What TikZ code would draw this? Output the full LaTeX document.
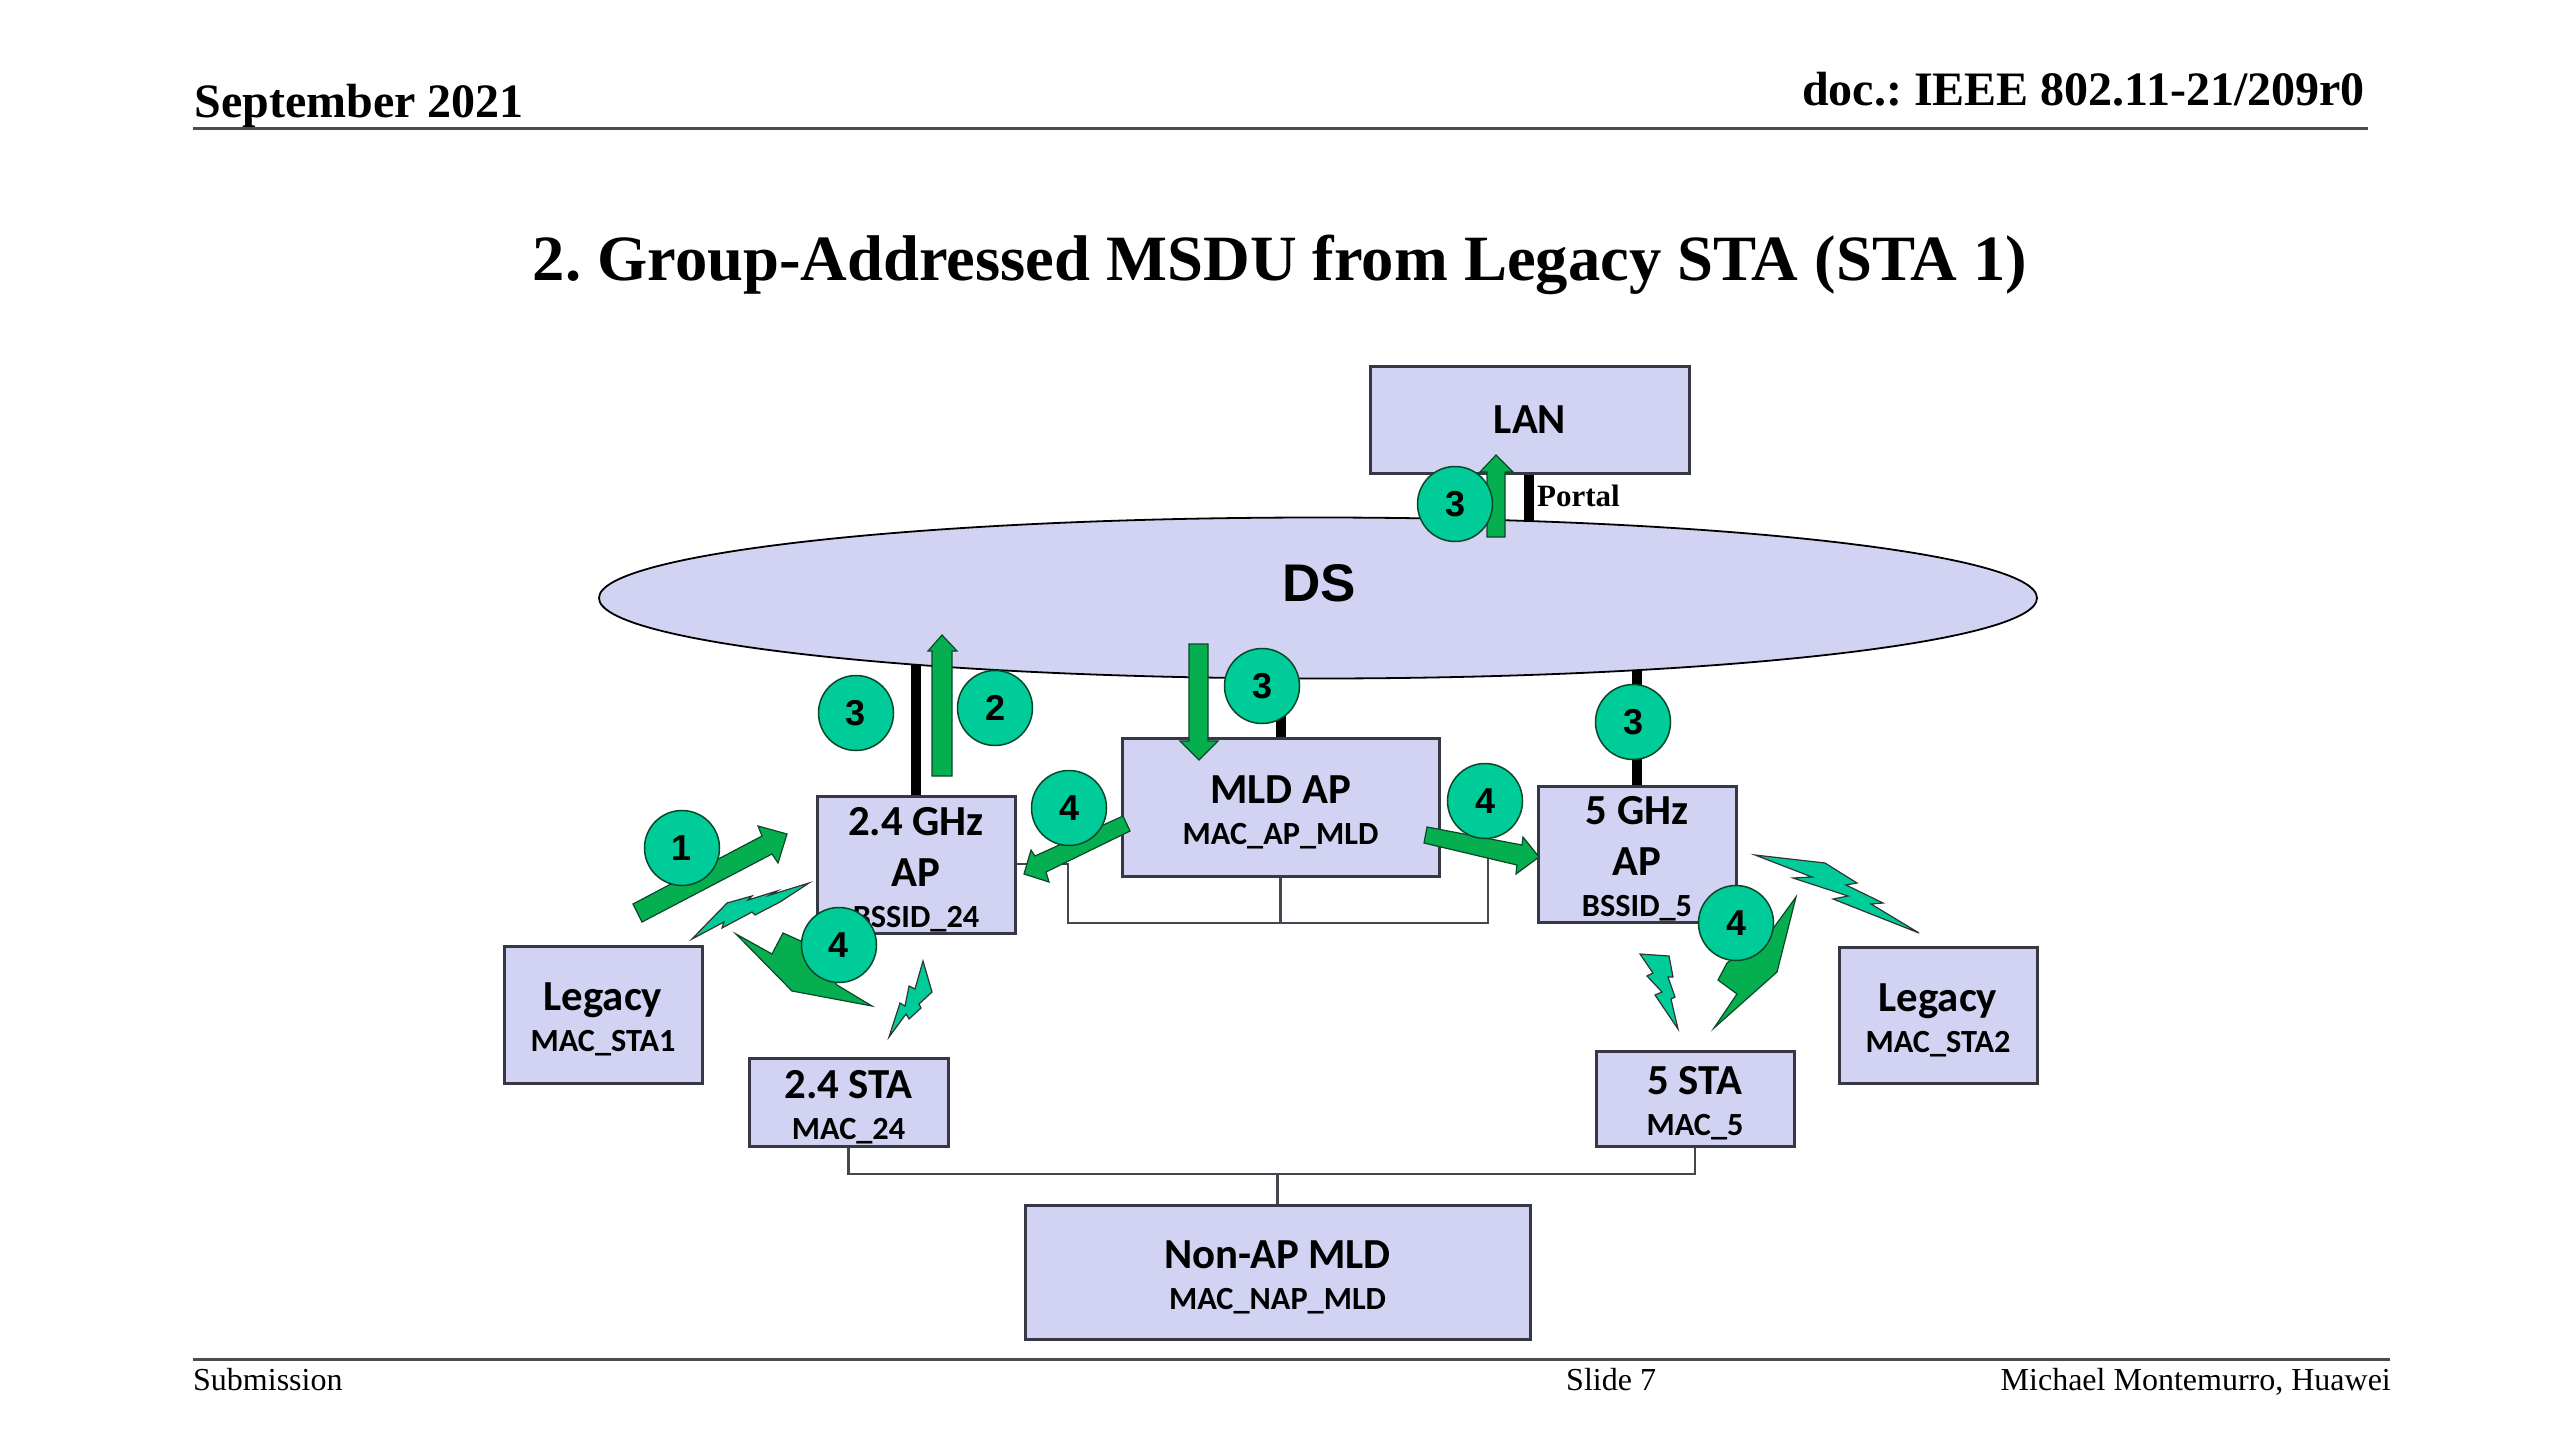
\documentclass[tikz,border=0pt]{standalone}
\usepackage{fontspec}
\setmainfont{Liberation Serif}
\newfontfamily\boxfamily{Carlito}
\newfontfamily\armfamily{Liberation Sans}
\usetikzlibrary{backgrounds,shapes.geometric}
\frenchspacing
\definecolor{boxfill}{RGB}{210,210,242}
\definecolor{boxline}{RGB}{55,55,70}
\definecolor{wireline}{RGB}{70,70,80}
\definecolor{badgefill}{RGB}{0,204,153}
\definecolor{flowfill}{RGB}{5,175,80}
\definecolor{flowline}{RGB}{10,70,40}
\newcommand{\titlefont}{\boxfamily\bfseries\fontsize{42.8}{42.8}\selectfont}
\newcommand{\macfont}{\boxfamily\bfseries\fontsize{32.3}{41}\selectfont}
\newcommand{\tline}[1]{{\titlefont\rule{0pt}{38pt}#1}}
\tikzset{
  labbox/.style={draw=boxline,fill=boxfill,line width=3,inner sep=0,align=center,font=\macfont},
  badge/.style={circle,draw=flowline,fill=badgefill,line width=1.5,minimum size=75,inner sep=0,
    font=\armfamily\bfseries\fontsize{36}{36}\selectfont},
  flow/.style={draw=flowline,fill=flowfill,line width=1.2},
  bolt/.style={draw=black!80,fill=badgefill,line width=1.2},
  link/.style={line width=10,black},
  wire/.style={line width=2.5,wireline},
  head/.style={inner sep=0,anchor=base,font=\bfseries\fontsize{48}{48}\selectfont},
  foot/.style={inner sep=0,anchor=base,font=\fontsize{32}{32}\selectfont},
  rule/.style={line width=3,black!70}
}
\begin{document}
\begin{tikzpicture}[x=1pt,y=-1pt]
\useasboundingbox (0,0) rectangle (2560,1440);

\node[head,anchor=base west] (date) at (194.5,117) {September 2021};
\node[head,anchor=base east] (doc)  at (2365,105) {doc.: IEEE 802.11-21/209r0};
\coordinate (hl) at (193,128);
\coordinate (hr) at (2368,128);
\draw[rule] (hl) -- (hr);
\node[inner sep=0,anchor=base,font=\bfseries\fontsize{64.6}{64.6}\selectfont] (title) at (1280,280)
  {2. Group-Addressed MSDU from Legacy STA (STA 1)};

\node[ellipse,draw=black,fill=boxfill,line width=1.8,minimum width=1438,minimum height=161,inner sep=0] (ds) at (1318,598) {};
\node[inner sep=0,anchor=base,font=\armfamily\bfseries\fontsize{53}{53}\selectfont] (dstext) at (1319,601) {DS};

\node[labbox,minimum width=319,minimum height=107,font=\titlefont] (lan) at (1530,420) {LAN};
\node[labbox,minimum width=317,minimum height=138] (mldap) at (1280.5,807) {\tline{MLD AP}\\{MAC\_AP\_MLD}};
\node[labbox,minimum width=198,minimum height=137] (ap24) at (916,864.5) {\tline{2.4 GHz}\\[10pt]\tline{AP}\\{BSSID\_24}};
\node[labbox,minimum width=198,minimum height=136] (ap5) at (1637,854) {\tline{5 GHz}\\[10pt]\tline{AP}\\{BSSID\_5}};
\node[labbox,minimum width=198,minimum height=137] (leg1) at (603,1014.5) {\tline{Legacy}\\{MAC\_STA1}};
\node[labbox,minimum width=198,minimum height=136] (leg2) at (1938,1015) {\tline{Legacy}\\{MAC\_STA2}};
\node[labbox,minimum width=199,minimum height=88] (sta24) at (848.5,1102) {\tline{2.4 STA}\\{MAC\_24}};
\node[labbox,minimum width=198,minimum height=95] (sta5) at (1695,1098.5) {\tline{5 STA}\\{MAC\_5}};
\node[labbox,minimum width=505,minimum height=134] (nonap) at (1277.5,1272) {\tline{Non-AP MLD}\\{MAC\_NAP\_MLD}};

\coordinate (portal) at (1529,500);
\coordinate (tapl) at (1068,864);
\coordinate (tapr) at (1488,855);
\coordinate (busl) at (1068,923);
\coordinate (busr) at (1488,923);
\coordinate (buss) at (1277.5,1174);
\begin{pgfonlayer}{background}
\draw[link] (portal |- lan.south) -- (portal |- ds.center);
\draw[link] (ap24.north) -- (ap24.north |- ds.center);
\draw[link] (mldap.north) -- (mldap.north |- ds.center);
\draw[link] (ap5.north) -- (ap5.north |- ds.center);
\draw[wire] (mldap.south) -- (mldap.south |- busl);
\draw[wire] (ap24.east |- tapl) -- (tapl) -- (busl) -- (busr) -- (tapr) -- (ap5.west |- tapr);
\draw[wire] (sta24.south) -- (sta24.south |- buss) -- (sta5.south |- buss) -- (sta5.south);
\draw[wire] (nonap.north) -- (buss);
\end{pgfonlayer}

\draw[flow] (1487,537) -- (1487,472) -- (1480,472) -- (1496,455) -- (1513,472) -- (1505,472) -- (1505,537) -- cycle;
\draw[flow] (932,776) -- (932,651) -- (928,651) -- (942,635) -- (957,651) -- (952,651) -- (952,776) -- cycle;
\draw[flow] (1189,644) -- (1189,741) -- (1180,741) -- (1199,760) -- (1218,741) -- (1208,741) -- (1208,644) -- cycle;
\draw[flow] (633,904) -- (642,922) -- (772,854) -- (778,863) -- (787,834) -- (758,826) -- (762,836) -- cycle;
\draw[flow] (1123,816) -- (1130,831) -- (1046,872) -- (1049,882) -- (1024,874) -- (1031,850) -- (1035,856) -- cycle;
\draw[flow] (1427,827) -- (1424,843) -- (1517,865) -- (1516,874) -- (1539,857) -- (1523,837) -- (1522,845) -- cycle;
\draw[flow] (736,934) -- (772,954) -- (783,933) -- (803,942) -- (837,985) -- (872,1006) -- (792,991) -- cycle;
\draw[flow] (1796,897) -- (1777,972) -- (1714,1028) -- (1737,994) -- (1718,980) -- (1727,963) -- (1772,930) -- cycle;

\draw[bolt] (692,939) -- (727,903) -- (752,896) -- (748,900) -- (777,891) -- (770,895) -- (809,883) -- (780,902) -- (755,915) -- (752,912) -- (722,928) -- (724,922) -- cycle;
\draw[bolt] (889,1037) -- (900,1003) -- (905,1006) -- (909,986) -- (915,989) -- (923,961) -- (932,992) -- (919,1004) -- (921,1008) -- (909,1019) -- (906,1014) -- cycle;
\draw[bolt] (1640,954) -- (1669,956) -- (1673,977) -- (1668,977) -- (1675,997) -- (1671,999) -- (1678,1029) -- (1655,995) -- (1662,992) -- (1647,976) -- (1653,973) -- cycle;
\draw[bolt] (1755,855) -- (1825,863) -- (1857,883) -- (1846,885) -- (1883,903) -- (1871,904) -- (1919,933) -- (1833,899) -- (1848,896) -- (1793,878) -- (1812,877) -- cycle;

\node[badge] (one)    at (682,848)  {1};
\node[badge] (two)    at (995,708)  {2};
\node[badge] (ap24c)  at (856,713)  {3};
\node[badge] (lanc)   at (1455,504) {3};
\node[badge] (mldc)   at (1262,686) {3};
\node[badge] (ap5c)   at (1633,722) {3};
\node[badge] (mldl)   at (1069,808) {4};
\node[badge] (mldr)   at (1485,801) {4};
\node[badge] (sta24c) at (839,945)  {4};
\node[badge] (sta5c)  at (1736,923) {4};

\node[inner sep=0,anchor=base west,font=\bfseries\fontsize{31}{31}\selectfont] (port) at (1537,506) {Portal};

\coordinate (fl) at (193,1359);
\coordinate (fr) at (2390,1359);
\draw[rule] (fl) -- (fr);
\node[foot,anchor=base west] (sub) at (193,1390) {Submission};
\node[foot,anchor=base west] (slide) at (1566,1390) {Slide 7};
\node[foot,anchor=base east] (auth) at (2391,1390) {Michael Montemurro, Huawei};
\end{tikzpicture}
\end{document}
